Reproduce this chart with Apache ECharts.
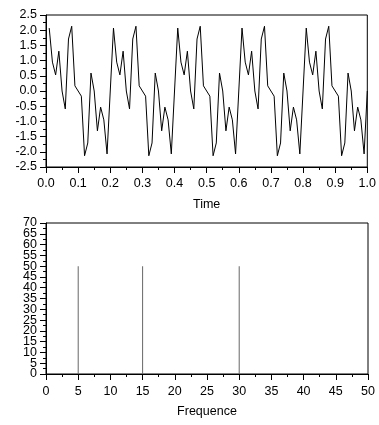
<!DOCTYPE html>
<html>
<head>
<meta charset="utf-8">
<script src="https://cdn.jsdelivr.net/npm/echarts@6/dist/echarts.min.js"></script>
<style>
html,body{margin:0;padding:0;background:#fff;}
#c{width:379px;height:425px;}
</style>
</head>
<body>
<div id="c"></div>
<script>
var times = [0.01,0.02,0.03,0.04,0.05,0.06,0.07,0.08,0.09,0.10,
0.11,0.12,0.13,0.14,0.15,0.16,0.17,0.18,0.19,0.20,
0.21,0.22,0.23,0.24,0.25,0.26,0.27,0.28,0.29,0.30,
0.31,0.32,0.33,0.34,0.35,0.36,0.37,0.38,0.39,0.40,
0.41,0.42,0.43,0.44,0.45,0.46,0.47,0.48,0.49,0.50,
0.51,0.52,0.53,0.54,0.55,0.56,0.57,0.58,0.59,0.60,
0.61,0.62,0.63,0.64,0.65,0.66,0.67,0.68,0.69,0.70,
0.71,0.72,0.73,0.74,0.75,0.76,0.77,0.78,0.79,0.80,
0.81,0.82,0.83,0.84,0.85,0.86,0.87,0.88,0.89,0.90,
0.91,0.92,0.93,0.94,0.95,0.96,0.97,0.98,0.99,1.00];
var signal = [2.07,0.95,0.53,1.31,0.00,-0.59,1.71,2.13,0.17,0.00,
-0.17,-2.13,-1.71,0.59,0.00,-1.31,-0.53,-0.95,-2.07,0.00,
2.07,0.95,0.53,1.31,0.00,-0.59,1.71,2.13,0.17,0.00,
-0.17,-2.13,-1.71,0.59,0.00,-1.31,-0.53,-0.95,-2.07,0.00,
2.07,0.95,0.53,1.31,0.00,-0.59,1.71,2.13,0.17,0.00,
-0.17,-2.13,-1.71,0.59,0.00,-1.31,-0.53,-0.95,-2.07,0.00,
2.07,0.95,0.53,1.31,0.00,-0.59,1.71,2.13,0.17,0.00,
-0.17,-2.13,-1.71,0.59,0.00,-1.31,-0.53,-0.95,-2.07,0.00,
2.07,0.95,0.53,1.31,0.00,-0.59,1.71,2.13,0.17,0.00,
-0.17,-2.13,-1.71,0.59,0.00,-1.31,-0.53,-0.95,-2.07,0.00];
var freqs = [5, 15, 30];
var magnitudes = [50, 50, 50];

var FONT = "'Liberation Sans', Arial, sans-serif";
var FS = 12.5;
var lineData = times.map(function(t, i){ return [t, signal[i]]; });
var stemData = freqs.map(function(f, i){ return [f, magnitudes[i]]; });

function axisCommon(){
  return {
    axisLine:{show:true, onZero:false, lineStyle:{color:'#000', width:1}},
    axisTick:{show:true, length:6, lineStyle:{color:'#000'}},
    minorTick:{show:true, splitNumber:2, length:3, lineStyle:{color:'#000'}},
    splitLine:{show:false},
    minorSplitLine:{show:false}
  };
}
function merge(a,b){ for(var k in b){ a[k]=b[k]; } return a; }
function lbl(extra){
  return merge({color:'#000', fontSize:FS, fontFamily:FONT, showMinLabel:true, showMaxLabel:true, hideOverlap:false}, extra||{});
}

var chart = echarts.init(document.getElementById('c'), null, {renderer:'canvas'});
chart.setOption({
  animation:false,
  backgroundColor:'#fff',
  textStyle:{fontFamily:FONT},
  grid:[
    {left:46, right:11, top:15, height:152, show:true, borderColor:'#000', borderWidth:1, backgroundColor:'transparent'},
    {left:46, right:11, top:223, height:151, show:true, borderColor:'#000', borderWidth:1, backgroundColor:'transparent'}
  ],
  xAxis:[
    merge(axisCommon(), {type:'value', gridIndex:0, min:0, max:1, interval:0.1,
      name:'Time', nameLocation:'middle', nameGap:31,
      nameTextStyle:{color:'#000', fontSize:FS, fontFamily:FONT},
      axisLabel:lbl({margin:10, formatter:function(v){ return v.toFixed(1); }})}),
    merge(axisCommon(), {type:'value', gridIndex:1, min:0, max:50, interval:5,
      name:'Frequence', nameLocation:'middle', nameGap:31,
      nameTextStyle:{color:'#000', fontSize:FS, fontFamily:FONT},
      axisLabel:lbl({margin:11})})
  ],
  yAxis:[
    merge(axisCommon(), {type:'value', gridIndex:0, min:-2.5, max:2.5, interval:0.5,
      axisLabel:lbl({margin:9, formatter:function(v){ return v.toFixed(1); }})}),
    merge(axisCommon(), {type:'value', gridIndex:1, position:'left', min:0, max:70, interval:5,
      axisLabel:lbl({margin:9, showMinLabel:false, showMaxLabel:false})}),
    {type:'value', gridIndex:1, position:'left', min:0, max:70, interval:70, offset:0,
      axisLine:{show:false}, axisTick:{show:false}, minorTick:{show:false},
      splitLine:{show:false},
      axisLabel:lbl({margin:9})}
  ],
  series:[
    {type:'line', xAxisIndex:0, yAxisIndex:0, data:lineData, showSymbol:false, symbol:'none',
      lineStyle:{color:'#000', width:1}, silent:true},
    {type:'bar', xAxisIndex:1, yAxisIndex:1, data:stemData, barWidth:1,
      itemStyle:{color:'#666'}, silent:true}
  ]
});
</script>
</body>
</html>
